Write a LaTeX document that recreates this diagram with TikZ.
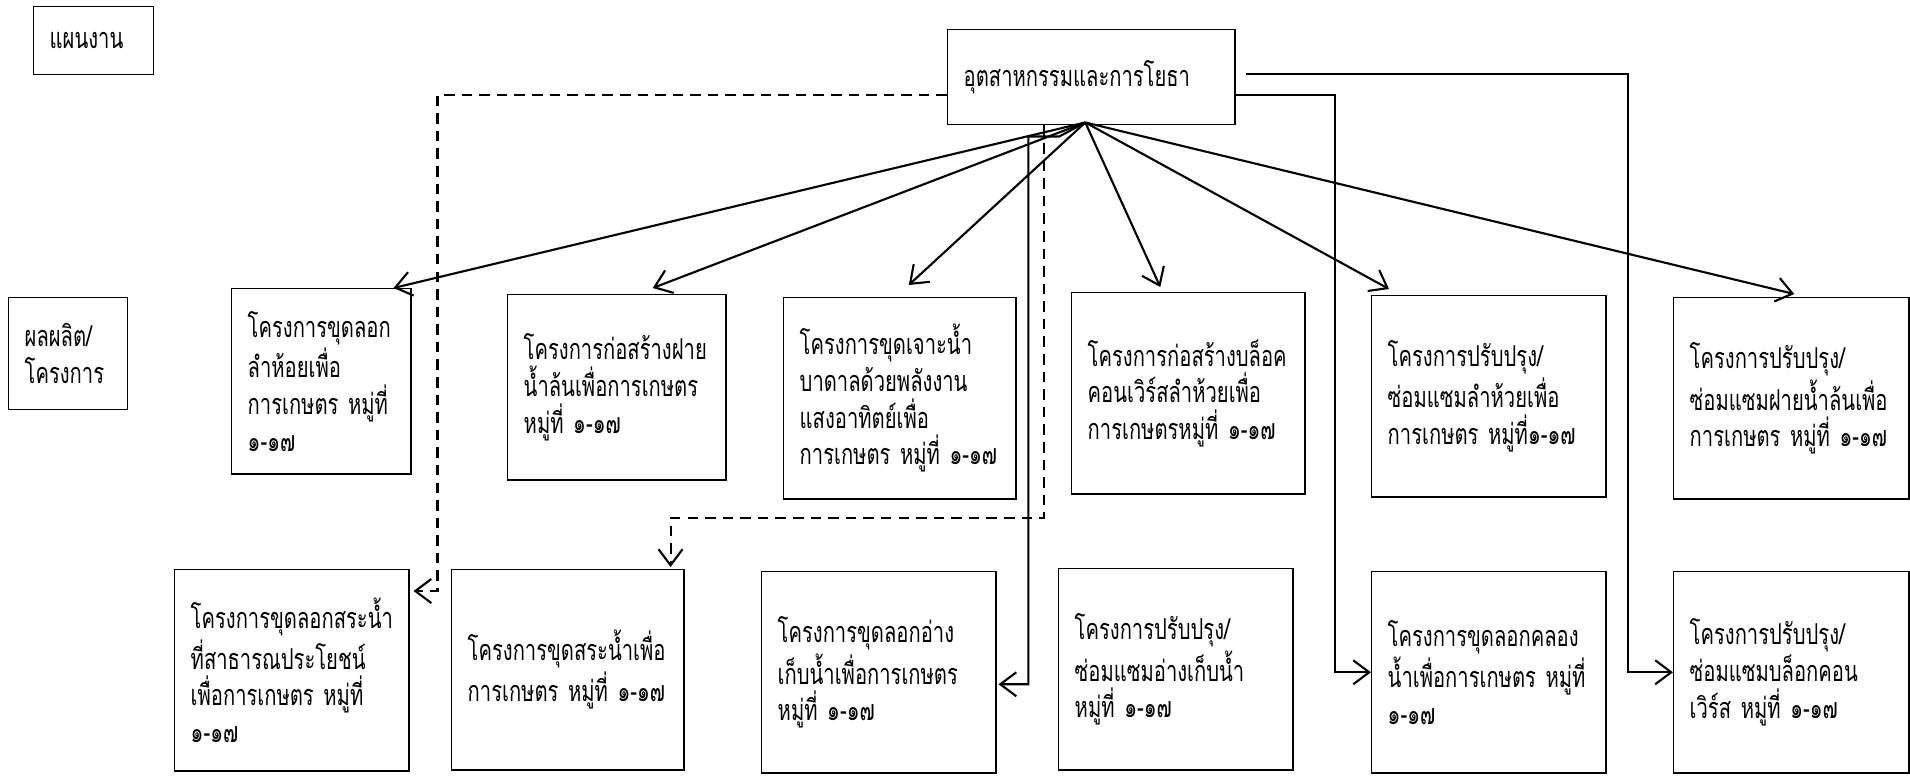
\documentclass[tikz,border=0pt]{standalone}
\usepackage{fontspec}
\newfontfamily\thaifont[Script=Thai,FakeStretch=0.70]{Loma}
\usepackage{tikz}
\usetikzlibrary{arrows.meta}
\usetikzlibrary{calc}
\exhyphenpenalty=10000
\hbadness=10000
\hfuzz=20pt

\begin{document}
\begin{tikzpicture}[x=0.01cm, y=-0.01cm,
    box/.style 2 args={draw, line width=0.4pt, anchor=north west, align=left,
      inner xsep=0.16cm, inner ysep=0pt, minimum width=#1cm, minimum height=#2cm,
      text width=#1cm-0.32cm, font=\thaifont\fontsize{8.2}{10.4}\selectfont},
    link/.style={line width=0.6pt, -{Straight Barb[length=1.6mm,width=2.4mm]}},
    dashed link/.style={link, dash pattern=on 3pt off 2pt},
    every node/.style={color=black}]
    \useasboundingbox (0,0) rectangle (1910,775);

    % left column and the department
    \node[box={1.20}{0.68}] (plan) at (33,6) {แผนงาน};
    \node[box={1.19}{1.12}] (output) at (8,297) {ผลผลิต/\\โครงการ};
    \node[box={2.87}{0.95}] (main) at (947,29) {อุตสาหกรรมและการโยธา};

    % first row of projects
    \node[box={1.79}{1.85}] (r1a) at (231,288) {โครงการขุดลอก\\ลำห้อยเพื่อ\\การเกษตร~หมู่ที่\\๑-๑๗};
    \node[box={2.18}{1.85}] (r1b) at (507,294) {โครงการก่อสร้างฝาย\\น้ำล้นเพื่อการเกษตร\\หมู่ที่~๑-๑๗};
    \node[box={2.32}{2.01}] (r1c) at (783,297) {โครงการขุดเจาะน้ำ\\บาดาลด้วยพลังงาน\\แสงอาทิตย์เพื่อ\\การเกษตร~หมู่ที่~๑-๑๗};
    \node[box={2.33}{2.01}] (r1d) at (1071,292) {โครงการก่อสร้างบล็อค\\คอนเวิร์สลำห้วยเพื่อ\\การเกษตรหมู่ที่~๑-๑๗};
    \node[box={2.34}{2.01}] (r1e) at (1371,295) {โครงการปรับปรุง/\\ซ่อมแซมลำห้วยเพื่อ\\การเกษตร~หมู่ที่๑-๑๗};
    \node[box={2.35}{2.01}] (r1f) at (1673,297) {โครงการปรับปรุง/\\ซ่อมแซมฝายน้ำล้นเพื่อ\\การเกษตร~หมู่ที่~๑-๑๗};

    % second row of projects
    \node[box={2.34}{2.01}] (r2a) at (174,569) {โครงการขุดลอกสระน้ำ\\ที่สาธารณประโยชน์\\เพื่อการเกษตร~หมู่ที่\\๑-๑๗};
    \node[box={2.32}{2.00}] (r2b) at (451,569) {โครงการขุดสระน้ำเพื่อ\\การเกษตร~หมู่ที่~๑-๑๗};
    \node[box={2.34}{2.01}] (r2c) at (761,571) {โครงการขุดลอกอ่าง\\เก็บน้ำเพื่อการเกษตร\\หมู่ที่~๑-๑๗};
    \node[box={2.34}{2.01}] (r2d) at (1058,568) {โครงการปรับปรุง/\\ซ่อมแซมอ่างเก็บน้ำ\\หมู่ที่~๑-๑๗};
    \node[box={2.34}{2.01}] (r2e) at (1371,571) {โครงการขุดลอกคลอง\\น้ำเพื่อการเกษตร~หมู่ที่\\๑-๑๗};
    \node[box={2.35}{2.01}] (r2f) at (1673,571) {โครงการปรับปรุง/\\ซ่อมแซมบล็อกคอน\\เวิร์ส~หมู่ที่~๑-๑๗};

    \coordinate (hub) at ($(main.south)+(-6,-3)$);

    % fan of arrows to the first row
    \foreach \dst/\pt/\dx/\dy in {r1a/north east/-18/0, r1b/north/36/-6, r1c/north/9/-12,
        r1d/north/-28/-5, r1e/north west/18/-6, r1f/north/3/-3}
      \draw[link] (hub) -- ($(\dst.\pt)+(\dx,\dy)$);

    % dashed links
    \draw[dashed link] ($(main.west)+(0,18)$) -| ($(r2a.north east)+(28,22)$) -- ($(r2a.north east)+(4,22)$);
    \draw[dashed link] ($(main.south west)+(97,0)$) |- ($(r2b.north east)+(-14,-51)$) -- ($(r2b.north east)+(-14,-2)$);

    % solid elbow links
    \draw[link] (hub) -- ++(-26,14) -- ++(-31,0) |- ($(r2c.east)+(2,12)$);
    \draw[link] ($(main.east)+(0,18)$) -| ($(r2e.west)+(-36,0)$) -- (r2e.west);
    \draw[link] ($(main.east)+(10,-3)$) -| ($(r2f.west)+(-45,0)$) -- (r2f.west);

\end{tikzpicture}
\end{document}
